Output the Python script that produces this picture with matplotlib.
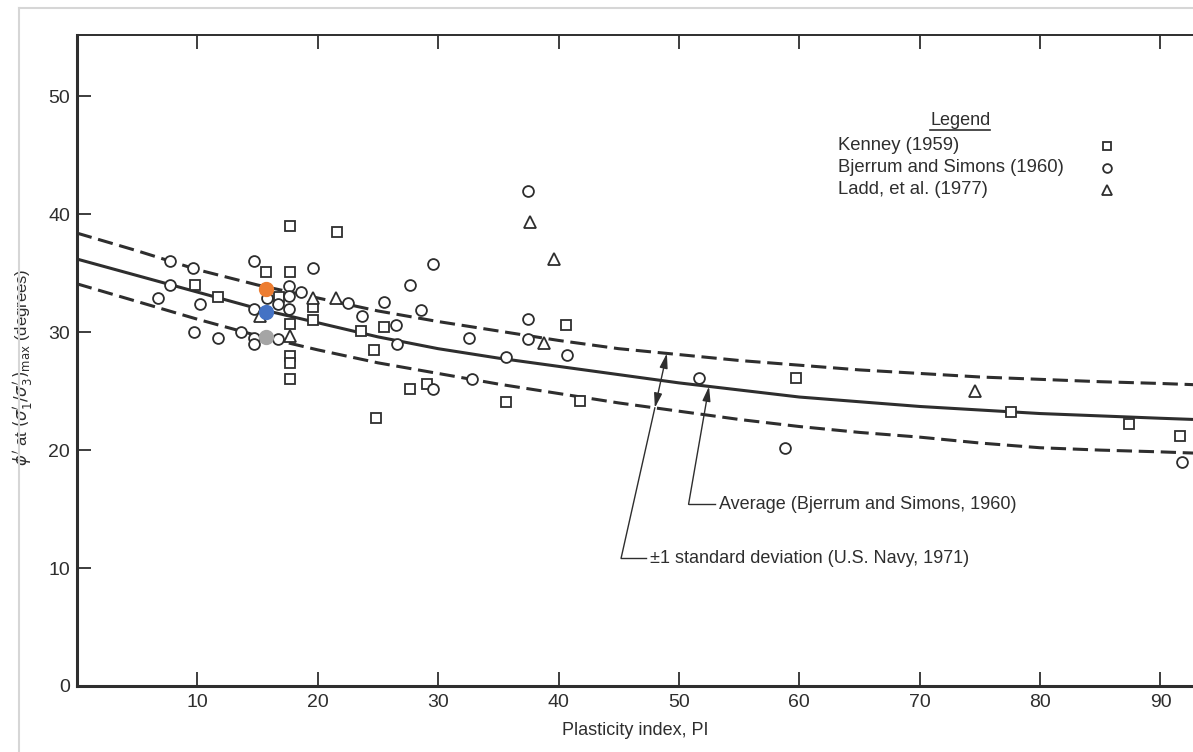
import numpy as np
import matplotlib
matplotlib.use("Agg")
import matplotlib.pyplot as plt
from matplotlib.lines import Line2D

plt.rcParams["font.family"] = ["Liberation Sans", "DejaVu Sans"]
plt.rcParams["mathtext.fontset"] = "dejavusans"

INK = "#2e2e2e"
ORANGE = "#ed7d31"
BLUE = "#4472c4"
GRAY = "#a5a5a5"

# Kenney (1959) - squares
kenney_pi = [9.8, 11.7, 15.7, 16.8, 17.7, 17.7, 17.7, 17.7, 17.7, 17.7, 19.6, 19.6, 21.6,
             23.6, 24.7, 24.8, 25.5, 27.7, 29.1, 35.6, 40.6, 41.8, 59.7, 77.6, 87.4, 91.6]
kenney_phi = [34.0, 33.0, 35.1, 33.0, 39.0, 35.1, 30.7, 28.0, 27.4, 26.0, 32.1, 31.0, 38.5,
              30.1, 28.5, 22.7, 30.4, 25.2, 25.6, 24.1, 30.6, 24.2, 26.1, 23.2, 22.2, 21.2]

# Bjerrum and Simons (1960) - circles
bjerrum_pi = [7.7, 9.6, 7.7, 6.7, 10.2, 14.7, 14.7, 15.8, 9.7, 11.7, 13.6, 14.7, 14.7,
              16.7, 16.7, 17.6, 17.6, 17.6, 18.6, 19.6, 22.5, 23.7, 25.5, 26.5, 26.6, 27.7,
              28.6, 29.6, 29.6, 32.6, 32.8, 35.6, 37.5, 37.5, 37.5, 40.7, 51.7, 58.8, 91.8]
bjerrum_phi = [36.0, 35.4, 34.0, 32.9, 32.4, 36.0, 32.0, 32.9, 30.0, 29.5, 30.0, 29.5, 29.0,
               29.4, 32.4, 33.9, 33.1, 32.0, 33.4, 35.4, 32.5, 31.4, 32.6, 30.6, 29.0, 34.0,
               31.9, 35.8, 25.2, 29.5, 26.0, 27.9, 42.0, 31.1, 29.4, 28.1, 26.1, 20.2, 19.0]

# Ladd, et al. (1977) - triangles
ladd_pi = [15.2, 17.7, 19.6, 21.5, 37.6, 39.6, 38.8, 74.6]
ladd_phi = [31.4, 29.7, 32.9, 32.9, 39.3, 36.2, 29.1, 25.0]

# highlighted points
hl_pi = [15.7, 15.7, 15.7]
hl_phi = [33.7, 31.7, 29.6]
hl_colors = [ORANGE, BLUE, GRAY]

# curves
curve_pi = [0, 5, 10, 15, 20, 25, 30, 35, 40, 45, 50, 55, 60, 65, 70, 75, 80, 85, 90, 92.7]
avg_phi = [36.2, 34.8, 33.4, 32.0, 30.8, 29.6, 28.6, 27.8, 27.1, 26.4, 25.7, 25.1, 24.5,
           24.1, 23.7, 23.4, 23.1, 22.9, 22.7, 22.6]
upper_phi = [38.4, 36.9, 35.3, 34.0, 32.9, 31.8, 30.9, 30.1, 29.3, 28.6, 28.1, 27.6, 27.2,
             26.8, 26.5, 26.2, 26.0, 25.8, 25.65, 25.55]
lower_phi = [34.1, 32.6, 31.1, 29.7, 28.5, 27.4, 26.5, 25.6, 24.8, 24.0, 23.3, 22.6, 22.0,
             21.5, 21.1, 20.6, 20.2, 20.0, 19.85, 19.75]

x_ticks = [10, 20, 30, 40, 50, 60, 70, 80, 90]
y_ticks = [0, 10, 20, 30, 40, 50]

legend_labels = ["Kenney (1959)", "Bjerrum and Simons (1960)", "Ladd, et al. (1977)"]
legend_markers = ["s", "o", "^"]

fig = plt.figure(figsize=(11.93, 7.52), dpi=100)
ax = fig.add_axes([0.0645, 0.0878, 0.9355, 0.8657])

# page border
fig.add_artist(Line2D([0.016, 0.016], [0.0, 0.989], transform=fig.transFigure,
                      color="#d6d6d6", lw=1.5))
fig.add_artist(Line2D([0.016, 1.0], [0.989, 0.989], transform=fig.transFigure,
                      color="#d6d6d6", lw=1.5))

ax.plot(curve_pi, avg_phi, color=INK, lw=2.2, solid_capstyle="butt", zorder=2)
ax.plot(curve_pi, upper_phi, color=INK, lw=2.2, linestyle=(0, (5, 2.2)), zorder=2)
ax.plot(curve_pi, lower_phi, color=INK, lw=2.2, linestyle=(0, (5, 2.2)), zorder=2)

mk = dict(linestyle="none", mfc="white", mec=INK, mew=1.3, zorder=3)
ax.plot(kenney_pi, kenney_phi, marker="s", ms=7.3, **mk)
ax.plot(bjerrum_pi, bjerrum_phi, marker="o", ms=7.8, **mk)
ax.plot(ladd_pi, ladd_phi, marker="^", ms=8.8, **mk)

for x, y, c in zip(hl_pi, hl_phi, hl_colors):
    ax.plot(x, y, marker="o", ms=10, color=c, mec=c, linestyle="none", zorder=5)

# annotations
lw_a = 1.0
arr = dict(color=INK, lw=lw_a, shrinkA=0, shrinkB=0, mutation_scale=11)

std_base = (45.2, 10.85)
std_lo = (48.0, float(np.interp(48.0, curve_pi, lower_phi)))
std_hi = (49.0, float(np.interp(49.0, curve_pi, upper_phi)))
ax.plot([std_base[0], std_lo[0]], [std_base[1], std_lo[1]], color=INK, lw=lw_a)
ax.plot([std_base[0], 47.3], [std_base[1], std_base[1]], color=INK, lw=lw_a)
ax.annotate("", xy=std_hi, xytext=std_lo,
            arrowprops=dict(arrowstyle="<|-|>,head_length=0.8,head_width=0.22", **arr))
ax.text(47.6, std_base[1], "\u00b11 standard deviation (U.S. Navy, 1971)",
        fontsize=13, color=INK, va="center", ha="left")

avg_base = (50.8, 15.4)
avg_tip = (52.5, float(np.interp(52.5, curve_pi, avg_phi)))
ax.plot([avg_base[0], 53.0], [avg_base[1], avg_base[1]], color=INK, lw=lw_a)
ax.annotate("", xy=avg_tip, xytext=avg_base,
            arrowprops=dict(arrowstyle="-|>,head_length=0.8,head_width=0.22", **arr))
ax.text(53.3, avg_base[1], "Average (Bjerrum and Simons, 1960)",
        fontsize=13, color=INK, va="center", ha="left")

# legend block
title = ax.text(0.7915, 0.869, "Legend", transform=ax.transAxes, fontsize=13,
                color=INK, ha="center", va="center")
for i, (lab, m) in enumerate(zip(legend_labels, legend_markers)):
    yy = 0.830 - i * 0.0338
    ax.text(0.6815, yy, lab, transform=ax.transAxes, fontsize=13.3, color=INK,
            ha="left", va="center")
    ax.plot(0.9225, yy, marker=m, ms=6.3 if m != "^" else 7.3, transform=ax.transAxes,
            linestyle="none", mfc="white", mec=INK, mew=1.3, clip_on=False)

ax.set_xlim(0, 92.7)
ax.set_ylim(0, 55.2)
ax.set_xticks(x_ticks)
ax.set_yticks(y_ticks)
ax.tick_params(axis="both", direction="in", length=10, width=1.3, color=INK,
               labelsize=14, labelcolor=INK)
ax.tick_params(axis="x", top=True, pad=6)
ax.tick_params(axis="y", pad=5)

ax.spines["right"].set_visible(False)
for s in ["left", "bottom"]:
    ax.spines[s].set_linewidth(2.2)
    ax.spines[s].set_color(INK)
ax.spines["top"].set_linewidth(1.4)
ax.spines["top"].set_color(INK)

ax.set_xlabel("Plasticity index, PI", fontsize=13, color=INK, labelpad=8)
ax.set_ylabel(r"$\phi'$ at $(\sigma_1'/\sigma_3')_{\rm max}$ (degrees)", fontsize=12,
              color=INK)
ax.yaxis.set_label_coords(-0.038, 0.49)

# underline for legend title
fig.canvas.draw()
bb = title.get_window_extent()
W, H = fig.bbox.width, fig.bbox.height
y_ul = (bb.y0 - 1) / H
fig.add_artist(Line2D([bb.x0 / W, bb.x1 / W], [y_ul, y_ul], transform=fig.transFigure,
                      color=INK, lw=1.2))

fig.savefig("out.png", dpi=100)
